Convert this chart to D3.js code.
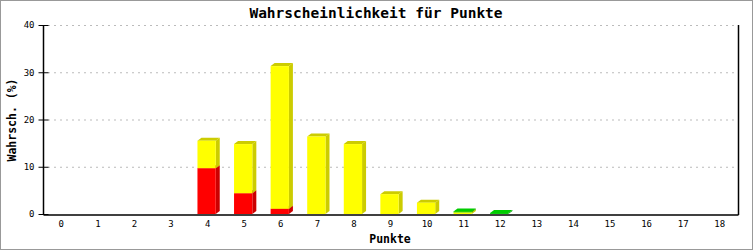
<!DOCTYPE html>
<html>
<head>
<meta charset="utf-8">
<script src="https://cdn.jsdelivr.net/npm/d3@7"></script>
<style>
  body { margin: 0; background: #fff; }
  svg { display: block; }
  text { font-family: "DejaVu Sans Mono", "Liberation Mono", monospace; }
</style>
</head>
<body>
<svg></svg>
<script>
// Daten
const punkte = d3.range(0, 19);
const rot = [0, 0, 0, 0, 9.7, 4.4, 1.1, 0, 0, 0, 0, 0, 0, 0, 0, 0, 0, 0, 0];
const gelb = [0, 0, 0, 0, 5.8, 10.4, 30.2, 16.4, 14.8, 4.2, 2.4, 0.35, 0, 0, 0, 0, 0, 0, 0];
const gruen = [0, 0, 0, 0, 0, 0, 0, 0, 0, 0, 0, 0.2, 0.2, 0, 0, 0, 0, 0, 0];
const yTicks = [0, 10, 20, 30, 40];

const width = 753;
const height = 250;
const pLeft = 43, pRight = 738, pTop = 25, pBottom = 214;
const dx = 4, dy = 3;

const farben = [
  { front: "#ff0000", dark: "#cc0000" },
  { front: "#ffff00", dark: "#cccc00" },
  { front: "#00cc00", dark: "#009900" }
];

const svg = d3.select("svg").attr("width", width).attr("height", height);

// Rahmen
svg.append("rect")
   .attr("x", 0.5).attr("y", 0.5)
   .attr("width", width - 1).attr("height", height - 1)
   .attr("fill", "#fff").attr("stroke", "#999");

const xScale = d3.scaleBand().domain(punkte).range([pLeft, pRight]);
const yScale = d3.scaleLinear().domain([0, 40]).range([pBottom, pTop]);

// Gitterlinien
svg.selectAll(".grid")
   .data(yTicks.filter(d => d > 0))
   .enter()
   .append("line")
   .attr("x1", pLeft + 5).attr("x2", pRight)
   .attr("y1", d => yScale(d) + 0.5).attr("y2", d => yScale(d) + 0.5)
   .attr("stroke", "#bbb")
   .attr("stroke-dasharray", "2,4");

// Balken
const stapel = punkte.map((p, i) => {
  let y0 = 0;
  return [rot[i], gelb[i], gruen[i]].map((v, s) => {
    const seg = { p: p, s: s, y0: y0, y1: y0 + v, v: v };
    y0 += v;
    return seg;
  }).filter(d => d.v > 0);
});
const segmente = stapel.flat();

const bw = xScale.bandwidth() / 2;
const bx = p => xScale(p) + xScale.bandwidth() / 2 - bw / 2 - 1;

const g = svg.append("g");
segmente.forEach(d => {
  const x0 = bx(d.p), x1 = x0 + bw;
  const ya = yScale(d.y0), yb = yScale(d.y1);
  const c = farben[d.s];
  // Seite
  g.append("polygon")
   .attr("points", [[x1, ya], [x1 + dx, ya - dy], [x1 + dx, yb - dy], [x1, yb]].join(" "))
   .attr("fill", c.dark);
  // Oberseite
  g.append("polygon")
   .attr("points", [[x0, yb], [x0 + dx, yb - dy], [x1 + dx, yb - dy], [x1, yb]].join(" "))
   .attr("fill", d.s === 2 ? c.front : c.dark);
  // Vorderseite
  g.append("rect")
   .attr("x", x0).attr("y", yb)
   .attr("width", bw).attr("height", ya - yb)
   .attr("fill", c.front);
});

// Achsen
const yAxis = d3.axisLeft(yScale).tickValues(yTicks).tickSize(5).tickPadding(4);
const yG = svg.append("g")
   .attr("transform", `translate(${pLeft + 0.5},0)`)
   .call(yAxis);
yG.select(".domain").remove();
yG.selectAll(".tick line").attr("x2", 5).attr("x1", -5).attr("stroke", "#000");
yG.selectAll(".tick text").attr("font-size", 9).attr("font-family", "DejaVu Sans Mono");

svg.append("line")
   .attr("x1", pLeft + 0.5).attr("x2", pLeft + 0.5)
   .attr("y1", pTop).attr("y2", pBottom + 1)
   .attr("stroke", "#000").attr("stroke-width", 1.5);
svg.append("line")
   .attr("x1", pRight + 0.5).attr("x2", pRight + 0.5)
   .attr("y1", pTop).attr("y2", pBottom + 1)
   .attr("stroke", "#000").attr("stroke-width", 1.5);

const xAxis = d3.axisBottom(xScale).tickSize(0).tickPadding(6);
const xG = svg.append("g")
   .attr("transform", `translate(0,${pBottom + 0.5})`)
   .call(xAxis);
xG.select(".domain").attr("stroke", "#000").attr("stroke-width", 1.5);
xG.selectAll(".tick text").attr("font-size", 9).attr("font-family", "DejaVu Sans Mono");

// Titel
svg.append("text")
   .attr("x", 376).attr("y", 18)
   .attr("text-anchor", "middle")
   .attr("font-size", 14.5).attr("font-weight", "bold")
   .text("Wahrscheinlichkeit für Punkte");

svg.append("text")
   .attr("x", 390).attr("y", 243)
   .attr("text-anchor", "middle")
   .attr("font-size", 11.5).attr("font-weight", "bold")
   .text("Punkte");

svg.append("text")
   .attr("transform", "translate(16,120) rotate(-90)")
   .attr("text-anchor", "middle")
   .attr("font-size", 11.5).attr("font-weight", "bold")
   .text("Wahrsch. (%)");
</script>
</body>
</html>
